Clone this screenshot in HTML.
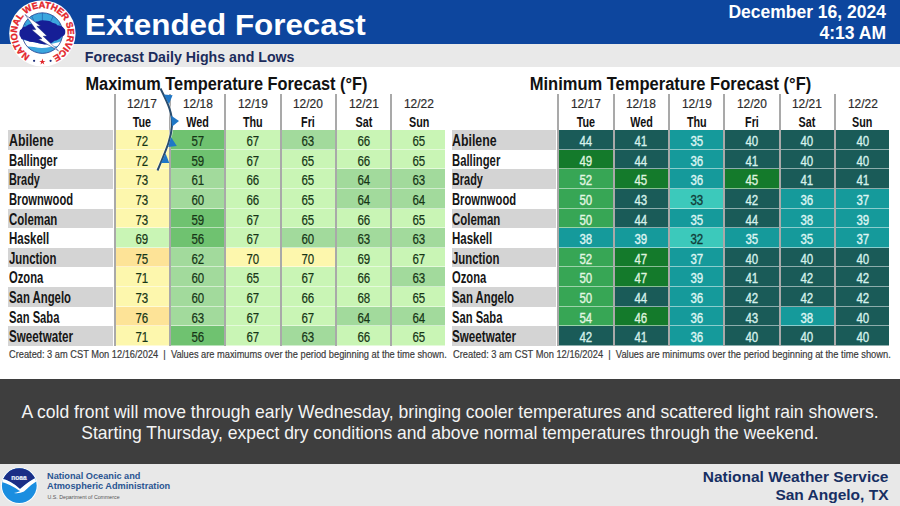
<!DOCTYPE html>
<html><head><meta charset="utf-8">
<style>
*{margin:0;padding:0;box-sizing:border-box}
html,body{width:900px;height:506px;overflow:hidden;background:#fff;font-family:"Liberation Sans",sans-serif;position:relative}
.a{position:absolute}
#hdr{position:absolute;left:0;top:0;width:900px;height:44.4px;background:#0d469e}
#sub{position:absolute;left:0;top:44.4px;width:900px;height:22.3px;background:#e9e9e9}
#title{position:absolute;left:84.8px;top:7.3px;font-size:30px;transform:scaleX(1.0455);transform-origin:0 50%;font-weight:bold;color:#fff;white-space:nowrap;line-height:36px}
#subt{position:absolute;left:84.8px;top:49.2px;font-size:14.2px;font-weight:bold;color:#1c2c5c;white-space:nowrap;line-height:17px}
#date{position:absolute;right:14px;top:2px;font-size:17.5px;font-weight:bold;color:#fff;text-align:right;line-height:20.8px;white-space:nowrap}
.ttl{position:absolute;font-size:18px;font-weight:bold;color:#111;text-align:center;white-space:nowrap;line-height:22px}
.ttl span{display:inline-block;transform-origin:50% 50%}
.stripe{position:absolute;background:#d4d4d4}
.nm{position:absolute;height:19.6px;line-height:22.2px;font-size:16px;font-weight:bold;color:#161616;white-space:nowrap}
.sx{display:inline-block;transform-origin:0 50%}
.sep{position:absolute;top:94px;width:2px;height:251.5px;background:#a9a9a9}
.dt{position:absolute;top:96px;height:16px;line-height:16px;font-size:13.5px;color:#2b2b2b;-webkit-text-stroke:.2px currentColor;text-align:center;white-space:nowrap}
.dy{position:absolute;top:114px;height:16px;line-height:16px;font-size:14px;font-weight:bold;color:#111;text-align:center;white-space:nowrap}
.dt span,.dy span,.cell span{display:inline-block;transform-origin:50% 50%}
.cell{position:absolute;height:19.6px;line-height:22.2px;font-size:14px;-webkit-text-stroke:.35px currentColor;text-align:center;border-bottom:1.5px solid rgba(255,255,255,.5);white-space:nowrap}
.cell.max{-webkit-text-stroke:.2px currentColor}
.fn{position:absolute;top:346px;line-height:16px;font-size:11.5px;color:#3a3a3a;-webkit-text-stroke:.2px currentColor;white-space:nowrap;transform-origin:0 50%}
#panel{position:absolute;left:0;top:379px;width:900px;height:85px;background:#3e3e3e}
#ptxt{position:absolute;left:0;top:401.5px;width:900px;text-align:center;color:#f4f4f4;font-size:17.52px;line-height:21px}
#foot{position:absolute;left:0;top:464px;width:900px;height:42px;background:#e8e8e8}
#nws{position:absolute;right:11.5px;top:468px;text-align:right;color:#172f63;font-size:15.5px;font-weight:bold;line-height:18px;white-space:nowrap}
#noaa{position:absolute;left:47px;top:470.8px;color:#2a5592;font-size:9.2px;font-weight:bold;line-height:10.6px;white-space:nowrap}
#doc{position:absolute;left:47.5px;top:493.5px;line-height:7px;color:#555;font-size:5.26px;white-space:nowrap}
</style></head><body>
<div id="hdr"></div>
<div id="sub"></div>
<svg class="a" style="left:0;top:0" width="90" height="70" viewBox="0 0 90 70">
 <defs>
  <clipPath id="ic"><circle cx="42.4" cy="33.1" r="20.3"/></clipPath>
  <path id="tp" d="M30.13 55.53 A25.3 25.3 0 1 1 53.09 56.33"/>
 </defs>
 <circle cx="42.4" cy="33.4" r="33.2" fill="#fff"/>
 <text font-family="Liberation Sans" font-weight="bold" font-size="9.2" fill="#e3232a" stroke="#e3232a" stroke-width=".35"><textPath href="#tp" textLength="135" lengthAdjust="spacing">NATIONAL WEATHER SERVICE</textPath></text>
 <circle cx="34.1" cy="60.8" r="1.1" fill="#1b2d7a"/>
 <circle cx="50.6" cy="60.8" r="1.1" fill="#1b2d7a"/>
 <path d="M42.4 58.6 L43.2 60.9 L45.5 60.9 L43.6 62.2 L44.3 64.4 L42.4 63 L40.5 64.4 L41.2 62.2 L39.3 60.9 L41.6 60.9 Z" fill="#e0262b"/>
 <g clip-path="url(#ic)">
  <rect x="20" y="10" width="45" height="48" fill="#3ba6de"/>
  <g stroke="#1f63b0" stroke-width=".7">
   <line x1="42.4" y1="40" x2="42.4" y2="10"/>
   <line x1="42.4" y1="40" x2="30" y2="12"/>
   <line x1="42.4" y1="40" x2="55" y2="12"/>
   <line x1="42.4" y1="40" x2="20" y2="20"/>
   <line x1="42.4" y1="40" x2="65" y2="20"/>
  </g>
  <path d="M18 39 Q30 41 42 44 Q54 45 66 39 L66 58 L18 58 Z" fill="#fff"/>
  <path d="M18 48.5 Q26 45.5 34 47 Q42 49 50 47 Q58 45.5 66 47.5 L66 58 L18 58 Z" fill="#3ba6de"/>
 </g>
 <circle cx="42.4" cy="33.1" r="20.3" fill="none" stroke="#24408f" stroke-width=".8"/>
 <path d="M19.4 32.7 Q19.5 29.5 21.5 29 Q23 26.3 26 26.6 Q28.5 23.6 31.5 24.2 Q34.5 21 38 21.6 Q41 19.6 45 20.4 Q49.5 20.2 52.5 22.8 Q56.5 23.2 57.8 25.5 Q62.5 25.8 63.6 28 Q65.8 29.5 65.3 32 Q65.5 35.5 61.5 36.8 Q58.5 40.5 54.5 40.8 Q50 44.8 44.6 44.5 Q39.5 43.8 34.7 42.3 Q29.5 42.3 25 39.8 Q21 39.8 20.8 37.6 Q18.8 35.5 19.4 32.7 Z" fill="#161e96"/>
 <path d="M25 14.5 L40.5 26 L36.8 26.2 L47 36 L43.2 36.3 L58.5 50.8 L38.5 39.3 L42 38.6 L31.8 29.8 L35.8 29.6 Z" fill="#fff" stroke="#1b2d7a" stroke-width=".5"/>
</svg>

<div id="title">Extended Forecast</div>
<div id="subt">Forecast Daily Highs and Lows</div>
<div id="date">December 16, 2024<br>4:13 AM</div>
<div class="ttl" style="left:8px;width:437.5px;top:73px"><span class="sc" style="transform:scaleX(0.9069)">Maximum Temperature Forecast (°F)</span></div>
<div class="stripe" style="left:8px;top:130.20px;width:104.6px;height:19.6px"></div>
<div class="nm" style="left:8.7px;top:130.20px"><span class="sx" style="transform:scaleX(0.7717)">Abilene</span></div>
<div class="nm" style="left:8.7px;top:149.80px"><span class="sx" style="transform:scaleX(0.7054)">Ballinger</span></div>
<div class="stripe" style="left:8px;top:169.40px;width:104.6px;height:19.6px"></div>
<div class="nm" style="left:8.7px;top:169.40px"><span class="sx" style="transform:scaleX(0.6812)">Brady</span></div>
<div class="nm" style="left:8.7px;top:189.00px"><span class="sx" style="transform:scaleX(0.7002)">Brownwood</span></div>
<div class="stripe" style="left:8px;top:208.60px;width:104.6px;height:19.6px"></div>
<div class="nm" style="left:8.7px;top:208.60px"><span class="sx" style="transform:scaleX(0.7147)">Coleman</span></div>
<div class="nm" style="left:8.7px;top:228.20px"><span class="sx" style="transform:scaleX(0.7173)">Haskell</span></div>
<div class="stripe" style="left:8px;top:247.80px;width:104.6px;height:19.6px"></div>
<div class="nm" style="left:8.7px;top:247.80px"><span class="sx" style="transform:scaleX(0.7109)">Junction</span></div>
<div class="nm" style="left:8.7px;top:267.40px"><span class="sx" style="transform:scaleX(0.7016)">Ozona</span></div>
<div class="stripe" style="left:8px;top:287.00px;width:104.6px;height:19.6px"></div>
<div class="nm" style="left:8.7px;top:287.00px"><span class="sx" style="transform:scaleX(0.7092)">San Angelo</span></div>
<div class="nm" style="left:8.7px;top:306.60px"><span class="sx" style="transform:scaleX(0.6997)">San Saba</span></div>
<div class="stripe" style="left:8px;top:326.20px;width:104.6px;height:19.6px"></div>
<div class="nm" style="left:8.7px;top:326.20px"><span class="sx" style="transform:scaleX(0.7280)">Sweetwater</span></div>
<div class="sep" style="left:113.50px"></div>
<div class="sep" style="left:168.84px"></div>
<div class="sep" style="left:224.18px"></div>
<div class="sep" style="left:279.52px"></div>
<div class="sep" style="left:334.86px"></div>
<div class="sep" style="left:390.20px"></div>
<div class="dt" style="left:115.50px;width:53.34px"><span style="transform:scaleX(.885)">12/17</span></div>
<div class="dy" style="left:115.50px;width:53.34px"><span style="transform:scaleX(.77)">Tue</span></div>
<div class="cell max" style="left:115.50px;top:130.20px;width:53.34px;background:#fdf7ad;color:#163516"><span style="transform:scaleX(.82)">72</span></div>
<div class="cell max" style="left:115.50px;top:149.80px;width:53.34px;background:#fdf7ad;color:#163516"><span style="transform:scaleX(.82)">72</span></div>
<div class="cell max" style="left:115.50px;top:169.40px;width:53.34px;background:#fdf7ad;color:#163516"><span style="transform:scaleX(.82)">73</span></div>
<div class="cell max" style="left:115.50px;top:189.00px;width:53.34px;background:#fdf7ad;color:#163516"><span style="transform:scaleX(.82)">73</span></div>
<div class="cell max" style="left:115.50px;top:208.60px;width:53.34px;background:#fdf7ad;color:#163516"><span style="transform:scaleX(.82)">73</span></div>
<div class="cell max" style="left:115.50px;top:228.20px;width:53.34px;background:#c9f5b5;color:#163516"><span style="transform:scaleX(.82)">69</span></div>
<div class="cell max" style="left:115.50px;top:247.80px;width:53.34px;background:#fde397;color:#163516"><span style="transform:scaleX(.82)">75</span></div>
<div class="cell max" style="left:115.50px;top:267.40px;width:53.34px;background:#fdf7ad;color:#163516"><span style="transform:scaleX(.82)">71</span></div>
<div class="cell max" style="left:115.50px;top:287.00px;width:53.34px;background:#fdf7ad;color:#163516"><span style="transform:scaleX(.82)">73</span></div>
<div class="cell max" style="left:115.50px;top:306.60px;width:53.34px;background:#fde397;color:#163516"><span style="transform:scaleX(.82)">76</span></div>
<div class="cell max" style="left:115.50px;top:326.20px;width:53.34px;background:#fdf7ad;color:#163516"><span style="transform:scaleX(.82)">71</span></div>
<div class="dt" style="left:170.84px;width:53.34px"><span style="transform:scaleX(.885)">12/18</span></div>
<div class="dy" style="left:170.84px;width:53.34px"><span style="transform:scaleX(.77)">Wed</span></div>
<div class="cell max" style="left:170.84px;top:130.20px;width:53.34px;background:#6fc270;color:#163516"><span style="transform:scaleX(.82)">57</span></div>
<div class="cell max" style="left:170.84px;top:149.80px;width:53.34px;background:#6fc270;color:#163516"><span style="transform:scaleX(.82)">59</span></div>
<div class="cell max" style="left:170.84px;top:169.40px;width:53.34px;background:#a2da9c;color:#163516"><span style="transform:scaleX(.82)">61</span></div>
<div class="cell max" style="left:170.84px;top:189.00px;width:53.34px;background:#a2da9c;color:#163516"><span style="transform:scaleX(.82)">60</span></div>
<div class="cell max" style="left:170.84px;top:208.60px;width:53.34px;background:#6fc270;color:#163516"><span style="transform:scaleX(.82)">59</span></div>
<div class="cell max" style="left:170.84px;top:228.20px;width:53.34px;background:#6fc270;color:#163516"><span style="transform:scaleX(.82)">56</span></div>
<div class="cell max" style="left:170.84px;top:247.80px;width:53.34px;background:#a2da9c;color:#163516"><span style="transform:scaleX(.82)">62</span></div>
<div class="cell max" style="left:170.84px;top:267.40px;width:53.34px;background:#a2da9c;color:#163516"><span style="transform:scaleX(.82)">60</span></div>
<div class="cell max" style="left:170.84px;top:287.00px;width:53.34px;background:#a2da9c;color:#163516"><span style="transform:scaleX(.82)">60</span></div>
<div class="cell max" style="left:170.84px;top:306.60px;width:53.34px;background:#a2da9c;color:#163516"><span style="transform:scaleX(.82)">63</span></div>
<div class="cell max" style="left:170.84px;top:326.20px;width:53.34px;background:#6fc270;color:#163516"><span style="transform:scaleX(.82)">56</span></div>
<div class="dt" style="left:226.18px;width:53.34px"><span style="transform:scaleX(.885)">12/19</span></div>
<div class="dy" style="left:226.18px;width:53.34px"><span style="transform:scaleX(.77)">Thu</span></div>
<div class="cell max" style="left:226.18px;top:130.20px;width:53.34px;background:#c9f5b5;color:#163516"><span style="transform:scaleX(.82)">67</span></div>
<div class="cell max" style="left:226.18px;top:149.80px;width:53.34px;background:#c9f5b5;color:#163516"><span style="transform:scaleX(.82)">67</span></div>
<div class="cell max" style="left:226.18px;top:169.40px;width:53.34px;background:#c9f5b5;color:#163516"><span style="transform:scaleX(.82)">66</span></div>
<div class="cell max" style="left:226.18px;top:189.00px;width:53.34px;background:#c9f5b5;color:#163516"><span style="transform:scaleX(.82)">66</span></div>
<div class="cell max" style="left:226.18px;top:208.60px;width:53.34px;background:#c9f5b5;color:#163516"><span style="transform:scaleX(.82)">67</span></div>
<div class="cell max" style="left:226.18px;top:228.20px;width:53.34px;background:#c9f5b5;color:#163516"><span style="transform:scaleX(.82)">67</span></div>
<div class="cell max" style="left:226.18px;top:247.80px;width:53.34px;background:#fdf7ad;color:#163516"><span style="transform:scaleX(.82)">70</span></div>
<div class="cell max" style="left:226.18px;top:267.40px;width:53.34px;background:#c9f5b5;color:#163516"><span style="transform:scaleX(.82)">65</span></div>
<div class="cell max" style="left:226.18px;top:287.00px;width:53.34px;background:#c9f5b5;color:#163516"><span style="transform:scaleX(.82)">67</span></div>
<div class="cell max" style="left:226.18px;top:306.60px;width:53.34px;background:#c9f5b5;color:#163516"><span style="transform:scaleX(.82)">67</span></div>
<div class="cell max" style="left:226.18px;top:326.20px;width:53.34px;background:#c9f5b5;color:#163516"><span style="transform:scaleX(.82)">67</span></div>
<div class="dt" style="left:281.52px;width:53.34px"><span style="transform:scaleX(.885)">12/20</span></div>
<div class="dy" style="left:281.52px;width:53.34px"><span style="transform:scaleX(.77)">Fri</span></div>
<div class="cell max" style="left:281.52px;top:130.20px;width:53.34px;background:#a2da9c;color:#163516"><span style="transform:scaleX(.82)">63</span></div>
<div class="cell max" style="left:281.52px;top:149.80px;width:53.34px;background:#c9f5b5;color:#163516"><span style="transform:scaleX(.82)">65</span></div>
<div class="cell max" style="left:281.52px;top:169.40px;width:53.34px;background:#c9f5b5;color:#163516"><span style="transform:scaleX(.82)">65</span></div>
<div class="cell max" style="left:281.52px;top:189.00px;width:53.34px;background:#c9f5b5;color:#163516"><span style="transform:scaleX(.82)">65</span></div>
<div class="cell max" style="left:281.52px;top:208.60px;width:53.34px;background:#c9f5b5;color:#163516"><span style="transform:scaleX(.82)">65</span></div>
<div class="cell max" style="left:281.52px;top:228.20px;width:53.34px;background:#a2da9c;color:#163516"><span style="transform:scaleX(.82)">60</span></div>
<div class="cell max" style="left:281.52px;top:247.80px;width:53.34px;background:#fdf7ad;color:#163516"><span style="transform:scaleX(.82)">70</span></div>
<div class="cell max" style="left:281.52px;top:267.40px;width:53.34px;background:#c9f5b5;color:#163516"><span style="transform:scaleX(.82)">67</span></div>
<div class="cell max" style="left:281.52px;top:287.00px;width:53.34px;background:#c9f5b5;color:#163516"><span style="transform:scaleX(.82)">66</span></div>
<div class="cell max" style="left:281.52px;top:306.60px;width:53.34px;background:#c9f5b5;color:#163516"><span style="transform:scaleX(.82)">67</span></div>
<div class="cell max" style="left:281.52px;top:326.20px;width:53.34px;background:#a2da9c;color:#163516"><span style="transform:scaleX(.82)">63</span></div>
<div class="dt" style="left:336.86px;width:53.34px"><span style="transform:scaleX(.885)">12/21</span></div>
<div class="dy" style="left:336.86px;width:53.34px"><span style="transform:scaleX(.77)">Sat</span></div>
<div class="cell max" style="left:336.86px;top:130.20px;width:53.34px;background:#c9f5b5;color:#163516"><span style="transform:scaleX(.82)">66</span></div>
<div class="cell max" style="left:336.86px;top:149.80px;width:53.34px;background:#c9f5b5;color:#163516"><span style="transform:scaleX(.82)">66</span></div>
<div class="cell max" style="left:336.86px;top:169.40px;width:53.34px;background:#a2da9c;color:#163516"><span style="transform:scaleX(.82)">64</span></div>
<div class="cell max" style="left:336.86px;top:189.00px;width:53.34px;background:#a2da9c;color:#163516"><span style="transform:scaleX(.82)">64</span></div>
<div class="cell max" style="left:336.86px;top:208.60px;width:53.34px;background:#c9f5b5;color:#163516"><span style="transform:scaleX(.82)">66</span></div>
<div class="cell max" style="left:336.86px;top:228.20px;width:53.34px;background:#a2da9c;color:#163516"><span style="transform:scaleX(.82)">63</span></div>
<div class="cell max" style="left:336.86px;top:247.80px;width:53.34px;background:#c9f5b5;color:#163516"><span style="transform:scaleX(.82)">69</span></div>
<div class="cell max" style="left:336.86px;top:267.40px;width:53.34px;background:#c9f5b5;color:#163516"><span style="transform:scaleX(.82)">66</span></div>
<div class="cell max" style="left:336.86px;top:287.00px;width:53.34px;background:#c9f5b5;color:#163516"><span style="transform:scaleX(.82)">68</span></div>
<div class="cell max" style="left:336.86px;top:306.60px;width:53.34px;background:#a2da9c;color:#163516"><span style="transform:scaleX(.82)">64</span></div>
<div class="cell max" style="left:336.86px;top:326.20px;width:53.34px;background:#c9f5b5;color:#163516"><span style="transform:scaleX(.82)">66</span></div>
<div class="dt" style="left:392.20px;width:53.30px"><span style="transform:scaleX(.885)">12/22</span></div>
<div class="dy" style="left:392.20px;width:53.30px"><span style="transform:scaleX(.77)">Sun</span></div>
<div class="cell max" style="left:392.20px;top:130.20px;width:53.30px;background:#c9f5b5;color:#163516"><span style="transform:scaleX(.82)">65</span></div>
<div class="cell max" style="left:392.20px;top:149.80px;width:53.30px;background:#c9f5b5;color:#163516"><span style="transform:scaleX(.82)">65</span></div>
<div class="cell max" style="left:392.20px;top:169.40px;width:53.30px;background:#a2da9c;color:#163516"><span style="transform:scaleX(.82)">63</span></div>
<div class="cell max" style="left:392.20px;top:189.00px;width:53.30px;background:#a2da9c;color:#163516"><span style="transform:scaleX(.82)">64</span></div>
<div class="cell max" style="left:392.20px;top:208.60px;width:53.30px;background:#c9f5b5;color:#163516"><span style="transform:scaleX(.82)">65</span></div>
<div class="cell max" style="left:392.20px;top:228.20px;width:53.30px;background:#a2da9c;color:#163516"><span style="transform:scaleX(.82)">63</span></div>
<div class="cell max" style="left:392.20px;top:247.80px;width:53.30px;background:#c9f5b5;color:#163516"><span style="transform:scaleX(.82)">67</span></div>
<div class="cell max" style="left:392.20px;top:267.40px;width:53.30px;background:#a2da9c;color:#163516"><span style="transform:scaleX(.82)">63</span></div>
<div class="cell max" style="left:392.20px;top:287.00px;width:53.30px;background:#c9f5b5;color:#163516"><span style="transform:scaleX(.82)">65</span></div>
<div class="cell max" style="left:392.20px;top:306.60px;width:53.30px;background:#a2da9c;color:#163516"><span style="transform:scaleX(.82)">64</span></div>
<div class="cell max" style="left:392.20px;top:326.20px;width:53.30px;background:#c9f5b5;color:#163516"><span style="transform:scaleX(.82)">65</span></div>
<div class="fn" style="left:8.9px"><span class="sx" style="transform:scaleX(0.8057)">Created: 3 am CST Mon 12/16/2024 &nbsp;|&nbsp; Values are maximums over the period beginning at the time shown.</span></div>
<div class="ttl" style="left:451.7px;width:437.5px;top:73px"><span class="sc" style="transform:scaleX(0.9172)">Minimum Temperature Forecast (°F)</span></div>
<div class="stripe" style="left:451.7px;top:130.20px;width:104.6px;height:19.6px"></div>
<div class="nm" style="left:452.4px;top:130.20px"><span class="sx" style="transform:scaleX(0.7717)">Abilene</span></div>
<div class="nm" style="left:452.4px;top:149.80px"><span class="sx" style="transform:scaleX(0.7054)">Ballinger</span></div>
<div class="stripe" style="left:451.7px;top:169.40px;width:104.6px;height:19.6px"></div>
<div class="nm" style="left:452.4px;top:169.40px"><span class="sx" style="transform:scaleX(0.6812)">Brady</span></div>
<div class="nm" style="left:452.4px;top:189.00px"><span class="sx" style="transform:scaleX(0.7002)">Brownwood</span></div>
<div class="stripe" style="left:451.7px;top:208.60px;width:104.6px;height:19.6px"></div>
<div class="nm" style="left:452.4px;top:208.60px"><span class="sx" style="transform:scaleX(0.7147)">Coleman</span></div>
<div class="nm" style="left:452.4px;top:228.20px"><span class="sx" style="transform:scaleX(0.7173)">Haskell</span></div>
<div class="stripe" style="left:451.7px;top:247.80px;width:104.6px;height:19.6px"></div>
<div class="nm" style="left:452.4px;top:247.80px"><span class="sx" style="transform:scaleX(0.7109)">Junction</span></div>
<div class="nm" style="left:452.4px;top:267.40px"><span class="sx" style="transform:scaleX(0.7016)">Ozona</span></div>
<div class="stripe" style="left:451.7px;top:287.00px;width:104.6px;height:19.6px"></div>
<div class="nm" style="left:452.4px;top:287.00px"><span class="sx" style="transform:scaleX(0.7092)">San Angelo</span></div>
<div class="nm" style="left:452.4px;top:306.60px"><span class="sx" style="transform:scaleX(0.6997)">San Saba</span></div>
<div class="stripe" style="left:451.7px;top:326.20px;width:104.6px;height:19.6px"></div>
<div class="nm" style="left:452.4px;top:326.20px"><span class="sx" style="transform:scaleX(0.7280)">Sweetwater</span></div>
<div class="sep" style="left:557.20px"></div>
<div class="sep" style="left:612.54px"></div>
<div class="sep" style="left:667.88px"></div>
<div class="sep" style="left:723.22px"></div>
<div class="sep" style="left:778.56px"></div>
<div class="sep" style="left:833.90px"></div>
<div class="dt" style="left:559.20px;width:53.34px"><span style="transform:scaleX(.885)">12/17</span></div>
<div class="dy" style="left:559.20px;width:53.34px"><span style="transform:scaleX(.77)">Tue</span></div>
<div class="cell min" style="left:559.20px;top:130.20px;width:53.34px;background:#1a5b58;color:#d6f1ec"><span style="transform:scaleX(.82)">44</span></div>
<div class="cell min" style="left:559.20px;top:149.80px;width:53.34px;background:#147a2b;color:#dff3df"><span style="transform:scaleX(.82)">49</span></div>
<div class="cell min" style="left:559.20px;top:169.40px;width:53.34px;background:#37a655;color:#e2f6e2"><span style="transform:scaleX(.82)">52</span></div>
<div class="cell min" style="left:559.20px;top:189.00px;width:53.34px;background:#37a655;color:#e2f6e2"><span style="transform:scaleX(.82)">50</span></div>
<div class="cell min" style="left:559.20px;top:208.60px;width:53.34px;background:#37a655;color:#e2f6e2"><span style="transform:scaleX(.82)">50</span></div>
<div class="cell min" style="left:559.20px;top:228.20px;width:53.34px;background:#159a9b;color:#def5f3"><span style="transform:scaleX(.82)">38</span></div>
<div class="cell min" style="left:559.20px;top:247.80px;width:53.34px;background:#37a655;color:#e2f6e2"><span style="transform:scaleX(.82)">52</span></div>
<div class="cell min" style="left:559.20px;top:267.40px;width:53.34px;background:#37a655;color:#e2f6e2"><span style="transform:scaleX(.82)">50</span></div>
<div class="cell min" style="left:559.20px;top:287.00px;width:53.34px;background:#37a655;color:#e2f6e2"><span style="transform:scaleX(.82)">50</span></div>
<div class="cell min" style="left:559.20px;top:306.60px;width:53.34px;background:#37a655;color:#e2f6e2"><span style="transform:scaleX(.82)">54</span></div>
<div class="cell min" style="left:559.20px;top:326.20px;width:53.34px;background:#1a5b58;color:#d6f1ec"><span style="transform:scaleX(.82)">42</span></div>
<div class="dt" style="left:614.54px;width:53.34px"><span style="transform:scaleX(.885)">12/18</span></div>
<div class="dy" style="left:614.54px;width:53.34px"><span style="transform:scaleX(.77)">Wed</span></div>
<div class="cell min" style="left:614.54px;top:130.20px;width:53.34px;background:#1a5b58;color:#d6f1ec"><span style="transform:scaleX(.82)">41</span></div>
<div class="cell min" style="left:614.54px;top:149.80px;width:53.34px;background:#1a5b58;color:#d6f1ec"><span style="transform:scaleX(.82)">44</span></div>
<div class="cell min" style="left:614.54px;top:169.40px;width:53.34px;background:#147a2b;color:#dff3df"><span style="transform:scaleX(.82)">45</span></div>
<div class="cell min" style="left:614.54px;top:189.00px;width:53.34px;background:#1a5b58;color:#d6f1ec"><span style="transform:scaleX(.82)">43</span></div>
<div class="cell min" style="left:614.54px;top:208.60px;width:53.34px;background:#1a5b58;color:#d6f1ec"><span style="transform:scaleX(.82)">44</span></div>
<div class="cell min" style="left:614.54px;top:228.20px;width:53.34px;background:#159a9b;color:#def5f3"><span style="transform:scaleX(.82)">39</span></div>
<div class="cell min" style="left:614.54px;top:247.80px;width:53.34px;background:#147a2b;color:#dff3df"><span style="transform:scaleX(.82)">47</span></div>
<div class="cell min" style="left:614.54px;top:267.40px;width:53.34px;background:#147a2b;color:#dff3df"><span style="transform:scaleX(.82)">47</span></div>
<div class="cell min" style="left:614.54px;top:287.00px;width:53.34px;background:#1a5b58;color:#d6f1ec"><span style="transform:scaleX(.82)">44</span></div>
<div class="cell min" style="left:614.54px;top:306.60px;width:53.34px;background:#147a2b;color:#dff3df"><span style="transform:scaleX(.82)">46</span></div>
<div class="cell min" style="left:614.54px;top:326.20px;width:53.34px;background:#1a5b58;color:#d6f1ec"><span style="transform:scaleX(.82)">41</span></div>
<div class="dt" style="left:669.88px;width:53.34px"><span style="transform:scaleX(.885)">12/19</span></div>
<div class="dy" style="left:669.88px;width:53.34px"><span style="transform:scaleX(.77)">Thu</span></div>
<div class="cell min" style="left:669.88px;top:130.20px;width:53.34px;background:#159a9b;color:#def5f3"><span style="transform:scaleX(.82)">35</span></div>
<div class="cell min" style="left:669.88px;top:149.80px;width:53.34px;background:#159a9b;color:#def5f3"><span style="transform:scaleX(.82)">36</span></div>
<div class="cell min" style="left:669.88px;top:169.40px;width:53.34px;background:#159a9b;color:#def5f3"><span style="transform:scaleX(.82)">36</span></div>
<div class="cell min" style="left:669.88px;top:189.00px;width:53.34px;background:#3cc9bb;color:#123c38"><span style="transform:scaleX(.82)">33</span></div>
<div class="cell min" style="left:669.88px;top:208.60px;width:53.34px;background:#159a9b;color:#def5f3"><span style="transform:scaleX(.82)">35</span></div>
<div class="cell min" style="left:669.88px;top:228.20px;width:53.34px;background:#3cc9bb;color:#123c38"><span style="transform:scaleX(.82)">32</span></div>
<div class="cell min" style="left:669.88px;top:247.80px;width:53.34px;background:#159a9b;color:#def5f3"><span style="transform:scaleX(.82)">37</span></div>
<div class="cell min" style="left:669.88px;top:267.40px;width:53.34px;background:#159a9b;color:#def5f3"><span style="transform:scaleX(.82)">39</span></div>
<div class="cell min" style="left:669.88px;top:287.00px;width:53.34px;background:#159a9b;color:#def5f3"><span style="transform:scaleX(.82)">36</span></div>
<div class="cell min" style="left:669.88px;top:306.60px;width:53.34px;background:#159a9b;color:#def5f3"><span style="transform:scaleX(.82)">36</span></div>
<div class="cell min" style="left:669.88px;top:326.20px;width:53.34px;background:#159a9b;color:#def5f3"><span style="transform:scaleX(.82)">36</span></div>
<div class="dt" style="left:725.22px;width:53.34px"><span style="transform:scaleX(.885)">12/20</span></div>
<div class="dy" style="left:725.22px;width:53.34px"><span style="transform:scaleX(.77)">Fri</span></div>
<div class="cell min" style="left:725.22px;top:130.20px;width:53.34px;background:#1a5b58;color:#d6f1ec"><span style="transform:scaleX(.82)">40</span></div>
<div class="cell min" style="left:725.22px;top:149.80px;width:53.34px;background:#1a5b58;color:#d6f1ec"><span style="transform:scaleX(.82)">41</span></div>
<div class="cell min" style="left:725.22px;top:169.40px;width:53.34px;background:#147a2b;color:#dff3df"><span style="transform:scaleX(.82)">45</span></div>
<div class="cell min" style="left:725.22px;top:189.00px;width:53.34px;background:#1a5b58;color:#d6f1ec"><span style="transform:scaleX(.82)">42</span></div>
<div class="cell min" style="left:725.22px;top:208.60px;width:53.34px;background:#1a5b58;color:#d6f1ec"><span style="transform:scaleX(.82)">44</span></div>
<div class="cell min" style="left:725.22px;top:228.20px;width:53.34px;background:#159a9b;color:#def5f3"><span style="transform:scaleX(.82)">35</span></div>
<div class="cell min" style="left:725.22px;top:247.80px;width:53.34px;background:#1a5b58;color:#d6f1ec"><span style="transform:scaleX(.82)">40</span></div>
<div class="cell min" style="left:725.22px;top:267.40px;width:53.34px;background:#1a5b58;color:#d6f1ec"><span style="transform:scaleX(.82)">41</span></div>
<div class="cell min" style="left:725.22px;top:287.00px;width:53.34px;background:#1a5b58;color:#d6f1ec"><span style="transform:scaleX(.82)">42</span></div>
<div class="cell min" style="left:725.22px;top:306.60px;width:53.34px;background:#1a5b58;color:#d6f1ec"><span style="transform:scaleX(.82)">43</span></div>
<div class="cell min" style="left:725.22px;top:326.20px;width:53.34px;background:#1a5b58;color:#d6f1ec"><span style="transform:scaleX(.82)">40</span></div>
<div class="dt" style="left:780.56px;width:53.34px"><span style="transform:scaleX(.885)">12/21</span></div>
<div class="dy" style="left:780.56px;width:53.34px"><span style="transform:scaleX(.77)">Sat</span></div>
<div class="cell min" style="left:780.56px;top:130.20px;width:53.34px;background:#1a5b58;color:#d6f1ec"><span style="transform:scaleX(.82)">40</span></div>
<div class="cell min" style="left:780.56px;top:149.80px;width:53.34px;background:#1a5b58;color:#d6f1ec"><span style="transform:scaleX(.82)">40</span></div>
<div class="cell min" style="left:780.56px;top:169.40px;width:53.34px;background:#1a5b58;color:#d6f1ec"><span style="transform:scaleX(.82)">41</span></div>
<div class="cell min" style="left:780.56px;top:189.00px;width:53.34px;background:#159a9b;color:#def5f3"><span style="transform:scaleX(.82)">36</span></div>
<div class="cell min" style="left:780.56px;top:208.60px;width:53.34px;background:#159a9b;color:#def5f3"><span style="transform:scaleX(.82)">38</span></div>
<div class="cell min" style="left:780.56px;top:228.20px;width:53.34px;background:#159a9b;color:#def5f3"><span style="transform:scaleX(.82)">35</span></div>
<div class="cell min" style="left:780.56px;top:247.80px;width:53.34px;background:#1a5b58;color:#d6f1ec"><span style="transform:scaleX(.82)">40</span></div>
<div class="cell min" style="left:780.56px;top:267.40px;width:53.34px;background:#1a5b58;color:#d6f1ec"><span style="transform:scaleX(.82)">42</span></div>
<div class="cell min" style="left:780.56px;top:287.00px;width:53.34px;background:#1a5b58;color:#d6f1ec"><span style="transform:scaleX(.82)">42</span></div>
<div class="cell min" style="left:780.56px;top:306.60px;width:53.34px;background:#159a9b;color:#def5f3"><span style="transform:scaleX(.82)">38</span></div>
<div class="cell min" style="left:780.56px;top:326.20px;width:53.34px;background:#1a5b58;color:#d6f1ec"><span style="transform:scaleX(.82)">40</span></div>
<div class="dt" style="left:835.90px;width:53.30px"><span style="transform:scaleX(.885)">12/22</span></div>
<div class="dy" style="left:835.90px;width:53.30px"><span style="transform:scaleX(.77)">Sun</span></div>
<div class="cell min" style="left:835.90px;top:130.20px;width:53.30px;background:#1a5b58;color:#d6f1ec"><span style="transform:scaleX(.82)">40</span></div>
<div class="cell min" style="left:835.90px;top:149.80px;width:53.30px;background:#1a5b58;color:#d6f1ec"><span style="transform:scaleX(.82)">40</span></div>
<div class="cell min" style="left:835.90px;top:169.40px;width:53.30px;background:#1a5b58;color:#d6f1ec"><span style="transform:scaleX(.82)">41</span></div>
<div class="cell min" style="left:835.90px;top:189.00px;width:53.30px;background:#159a9b;color:#def5f3"><span style="transform:scaleX(.82)">37</span></div>
<div class="cell min" style="left:835.90px;top:208.60px;width:53.30px;background:#159a9b;color:#def5f3"><span style="transform:scaleX(.82)">39</span></div>
<div class="cell min" style="left:835.90px;top:228.20px;width:53.30px;background:#159a9b;color:#def5f3"><span style="transform:scaleX(.82)">37</span></div>
<div class="cell min" style="left:835.90px;top:247.80px;width:53.30px;background:#1a5b58;color:#d6f1ec"><span style="transform:scaleX(.82)">40</span></div>
<div class="cell min" style="left:835.90px;top:267.40px;width:53.30px;background:#1a5b58;color:#d6f1ec"><span style="transform:scaleX(.82)">42</span></div>
<div class="cell min" style="left:835.90px;top:287.00px;width:53.30px;background:#1a5b58;color:#d6f1ec"><span style="transform:scaleX(.82)">42</span></div>
<div class="cell min" style="left:835.90px;top:306.60px;width:53.30px;background:#1a5b58;color:#d6f1ec"><span style="transform:scaleX(.82)">40</span></div>
<div class="cell min" style="left:835.90px;top:326.20px;width:53.30px;background:#1a5b58;color:#d6f1ec"><span style="transform:scaleX(.82)">40</span></div>
<div class="fn" style="left:452.59999999999997px"><span class="sx" style="transform:scaleX(0.8105)">Created: 3 am CST Mon 12/16/2024 &nbsp;|&nbsp; Values are minimums over the period beginning at the time shown.</span></div>
<svg class="a" style="left:0;top:0" width="900" height="506" viewBox="0 0 900 506">
 <path d="M160.5 88.5 C 166 100, 173 112, 172 126 C 171 140, 165 152, 157.5 170.5" fill="none" stroke="#fff" stroke-opacity=".6" stroke-width="3.4"/>
 <path d="M160.5 88.5 C 166 100, 173 112, 172 126 C 171 140, 165 152, 157.5 170.5" fill="none" stroke="#2a4d6e" stroke-width="2"/>
 <g fill="#1f77c6">
  <path d="M163.8 94.5 L168.9 104 L172.6 95.2 Z"/>
  <path d="M171 115.5 L172.2 126.5 L179 121 Z"/>
  <path d="M171 137 L168.2 147 L176.8 146 Z"/>
  <path d="M165.6 153.5 L161 163 L169.3 163 Z"/>
 </g>
</svg>

<div id="panel"></div>
<div id="ptxt">A cold front will move through early Wednesday, bringing cooler temperatures and scattered light rain showers.<br>Starting Thursday, expect dry conditions and above normal temperatures through the weekend.</div>
<div id="foot"></div>
<svg class="a" style="left:0;top:465px" width="40" height="41" viewBox="0 465 40 41">
 <defs><clipPath id="nc"><circle cx="19.3" cy="485.7" r="17.4"/></clipPath></defs>
 <circle cx="19.3" cy="485.7" r="18.3" fill="#fff"/>
 <g clip-path="url(#nc)">
  <rect x="0" y="466" width="40" height="40" fill="#1a8ee0"/>
  <path d="M0 466 L40 466 L40 476 Q31 479 20 489 Q12 481 0 478 Z" fill="#1b2e86"/>
  <path d="M0 478 Q12 481 20 489 Q31 479 40 476 L40 479.5 Q32 483 24 491.5 Q19 494 14 493 Q22 491 19 490.5 Q10 484 0 481.5 Z" fill="#fff"/>
 </g>
 <text x="19" y="480" font-family="Liberation Sans" font-weight="bold" font-size="6.6" fill="#e8eef8" text-anchor="middle" stroke="#e8eef8" stroke-width=".2" letter-spacing=".05">noaa</text>
</svg>

<div id="noaa">National Oceanic and<br>Atmospheric Administration</div>
<div id="doc">U.S. Department of Commerce</div>
<div id="nws">National Weather Service<br>San Angelo, TX</div>
</body></html>
